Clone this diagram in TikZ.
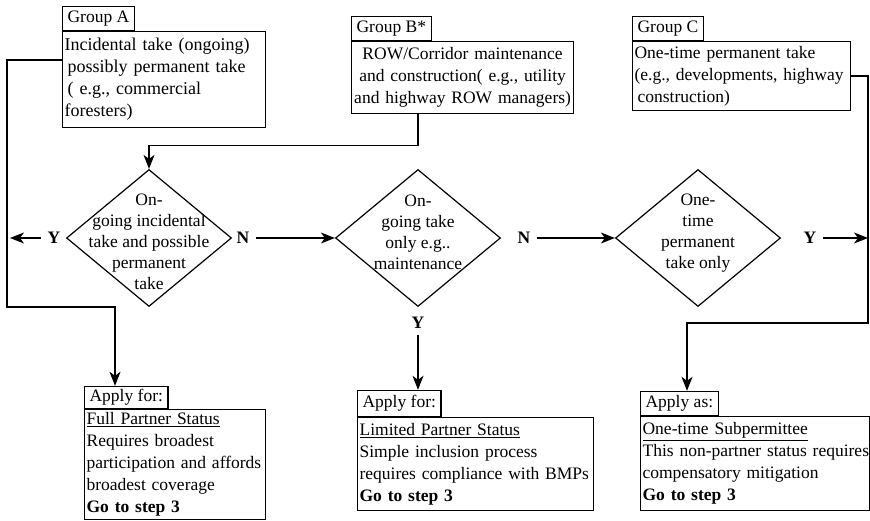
\documentclass[tikz,border=0pt]{standalone}
\usepackage{fontspec}
\setmainfont{Liberation Serif}
\usetikzlibrary{arrows.meta,shapes.geometric,calc}

\tikzstyle{infobox} = [
	draw = black,
	line width = 1.2pt,
	anchor = north west,
	align = left,
	inner xsep = 2pt,
	inner ysep = 3pt
	]

\tikzstyle{tabbox} = [
	draw = black,
	line width = 1.2pt,
	anchor = south west,
	inner xsep = 5pt,
	inner ysep = 0pt,
	minimum height = 24pt
	]

\begin{document}
\begin{tikzpicture}[
	x = 1pt, y = -1pt,
	font = \fontsize{17.5}{22}\selectfont,
	decision/.style = {
	draw = black,
	line width = 1.2pt,
	diamond,
	inner sep = 0pt,
	minimum width = 165pt,
	minimum height = 137pt
	},
	dtext/.style = {
	align = center,
	inner sep = 0pt,
	font = \fontsize{17.5}{21}\selectfont
	},
	answer/.style = {
	font = \fontsize{17.5}{22}\selectfont\bfseries,
	inner sep = 6pt
	},
	flow/.style = {
	line width = 1.2pt,
	-{Stealth[length=14pt, width=11pt, inset=4pt]}
	}
	]

			   \useasboundingbox (0,0) rectangle (870,521);

			   \node[infobox, font=\fontsize{18}{22}\selectfont, text width=199pt, minimum height=96pt] (boxA) at (62,31) {Incidental take (ongoing)\\\hspace{3pt}possibly permanent take\\\hspace{3pt}( e.g., commercial\\foresters)};
			   \node[tabbox] (tabA) at (boxA.north west) {Group A};

			   \node[infobox, align=center, text width=218pt, minimum height=72pt] (boxB) at (351,41) {ROW/Corridor maintenance\\and construction( e.g., utility\\\mbox{and highway ROW managers)}};
			   \node[tabbox] (tabB) at (boxB.north west) {Group B*};

			   \node[infobox, text width=214pt, minimum height=69pt] (boxC) at (632,41) {One-time permanent take\\(e.g., developments, highway\\\hspace{3pt}construction)};
			   \node[tabbox] (tabC) at (boxC.north west) {Group C};

			   \node[decision] (d1) at (149,238) {};
			   \node[decision] (d2) at (418,238) {};
			   \node[decision] (d3) at (698,238) {};
			   \node[dtext] (q1) at (149,242) {On-\\going incidental\\take and possible\\permanent\\take};
			   \node[dtext] (q2) at (418,232) {On-\\going take\\only e.g..\\maintenance};
			   \node[dtext] (q3) at (698,233) {One-\\time\\permanent\\take only};

			   \node[infobox, text width=177pt, minimum height=110pt] (boxL) at (84,409) {\underline{Full Partner Status}\\Requires broadest\\participation and affords\\broadest coverage\\\textbf{Go to step 3}};
			   \node[tabbox, minimum height=22pt] (tabL) at (boxL.north west) {Apply for:};

			   \node[infobox, text width=232pt, minimum height=93pt] (boxM) at (357,417) {\underline{Limited Partner Status}\\Simple inclusion process\\\mbox{requires compliance with BMPs}\\\textbf{Go to step 3}};
			   \node[tabbox, minimum height=26pt] (tabM) at (boxM.north west) {Apply for:};

			   \node[infobox, text width=225pt, minimum height=94pt] (boxR) at (640,416) {\underline{One-time Subpermittee}\\\mbox{This non-partner status requires}\\compensatory mitigation\\\textbf{Go to step 3}};
			   \node[tabbox] (tabR) at (boxR.north west) {Apply as:};

			   \node[answer] (y1) at (54,238) {Y};
			   \node[answer] (n1) at (243,238) {N};
			   \node[answer] (n2) at (524,238) {N};
			   \node[answer] (y3) at (810,238) {Y};
			   \node[answer] (y2) at (418,323) {Y};

			   \coordinate (outA) at (10,238);
			   \coordinate (cR) at (868,323);

			   \draw[flow] ($(boxA.north west)+(0,29)$) -| (7,307) -| (115,0 |- tabL.north);
			   \draw[flow] (418,0 |- boxB.south) |- ($(d1.north)+(0,-23)$) -- (d1.north);
			   \draw[flow] (boxC.east) -| (cR) -| (687,0 |- tabR.north);

			   \draw[flow] (y1) -- (outA);
			   \draw[flow] (n1.east) -- (d2.west);
			   \draw[flow] (n2.east) -- (d3.west);
			   \draw[flow] (y3.east) -- (y3 -| cR);
			   \draw[flow] (y2.south) -- (y2 |- tabM.north);
		   \end{tikzpicture}
\end{document}
